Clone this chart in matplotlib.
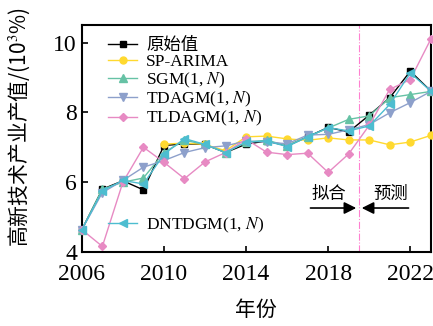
import numpy as np
import matplotlib
matplotlib.use("Agg")
import matplotlib.pyplot as plt

plt.rcParams['font.family'] = ['Liberation Serif', 'Noto Sans CJK SC', 'DejaVu Sans']
plt.rcParams['mathtext.fontset'] = 'stix'

years = np.arange(2006, 2024)
original = [4.64, 5.80, 6.04, 5.78, 7.05, 7.10, 7.08, 6.85, 7.09, 7.18, 7.04, 7.30, 7.57, 7.44, 7.92, 8.42, 9.18, 8.61]
sp_arima_years = np.arange(2010, 2024)
sp_arima = [7.09, 7.12, 7.08, 6.90, 7.30, 7.32, 7.24, 7.20, 7.27, 7.21, 7.21, 7.07, 7.15, 7.34]
sgm = [4.64, 5.80, 6.00, 6.12, 6.85, 7.20, 7.08, 6.85, 7.15, 7.20, 7.05, 7.30, 7.55, 7.80, 7.90, 8.42, 8.51, 8.60]
tdagm = [4.64, 5.70, 6.05, 6.43, 6.62, 6.85, 6.99, 7.04, 7.18, 7.15, 7.10, 7.35, 7.37, 7.50, 7.65, 7.99, 8.28, 8.60]
tldagm = [4.64, 4.16, 6.00, 7.00, 6.57, 6.10, 6.58, 6.85, 7.23, 6.86, 6.79, 6.83, 6.28, 6.81, 7.63, 8.66, 8.94, 10.10]
dntdgm = [4.64, 5.75, 6.05, 5.95, 6.80, 7.25, 7.08, 6.85, 7.15, 7.18, 7.02, 7.30, 7.56, 7.47, 7.61, 8.23, 9.13, 8.61]

split_year = 2019.5
x_ticks = [2006, 2010, 2014, 2018, 2022]
y_ticks = [4, 6, 8, 10]

fig = plt.figure(figsize=(4.33, 3.26), dpi=100)
ax = fig.add_axes([0.189, 0.227, 0.806, 0.696])

styles = [
    ('原始值', years, original, '#000000', 's', 4.5),
    ('SP-ARIMA', sp_arima_years, sp_arima, '#ffd92f', 'o', 5),
    ('SGM(1, $N$)', years, sgm, '#66c2a5', '^', 5.5),
    ('TDAGM(1, $N$)', years, tdagm, '#8da0cb', 'v', 5.5),
    ('TLDAGM(1, $N$)', years, tldagm, '#e78ac3', 'D', 4.5),
    ('DNTDGM(1, $N$)', years, dntdgm, '#4dbdd0', '<', 5.5),
]

handles = []
for label, xs, ys, color, marker, ms in styles:
    h, = ax.plot(xs, ys, color=color, marker=marker, markersize=ms, lw=1.0,
                 label=label, clip_on=False, zorder=3)
    handles.append(h)

ax.axvline(split_year, color='#ff80d0', lw=0.8, ls='-.', zorder=1)

ax.set_xlim(2006, 2023)
ax.set_ylim(4, 10.5)
ax.set_xticks(x_ticks)
ax.set_yticks(y_ticks)
ax.tick_params(direction='in', length=4, width=1.2, labelsize=17, top=False, right=False)
ax.tick_params(axis='x', pad=9)
for s in ax.spines.values():
    s.set_linewidth(1.5)

ax.set_xlabel('年份', family=['Noto Sans CJK SC'], fontsize=15, labelpad=10)
ax.set_ylabel('高新技术产业产值/(10$^3$%)', family=['Noto Sans CJK SC', 'DejaVu Sans'],
              fontsize=15)
ax.yaxis.set_label_coords(-0.142, 0.55)

leg1 = ax.legend(handles=handles[:5], loc='upper left', bbox_to_anchor=(0.045, 0.99),
                 frameon=False, fontsize=12.5, labelspacing=0.01, handlelength=1.7,
                 handletextpad=0.5, borderpad=0.1)
ax.add_artist(leg1)
ax.legend(handles=handles[5:], loc='upper left', bbox_to_anchor=(0.045, 0.205),
          frameon=False, fontsize=12.5, handlelength=1.7, handletextpad=0.5, borderpad=0.1)

# fitting / forecasting markers around the split line
arrow_y = 5.26
ax.annotate('', xy=(split_year, arrow_y), xytext=(2017.0, arrow_y),
            arrowprops=dict(arrowstyle='-|>', color='black', lw=1.2, mutation_scale=18))
ax.annotate('', xy=(split_year, arrow_y), xytext=(2022.05, arrow_y),
            arrowprops=dict(arrowstyle='-|>', color='black', lw=1.2, mutation_scale=18))
ax.text(2018.05, 5.66, '拟合', family=['Noto Sans CJK SC'], fontsize=12.5, ha='center', va='center')
ax.text(2021.05, 5.66, '预测', family=['Noto Sans CJK SC'], fontsize=12.5, ha='center', va='center')

fig.savefig('out.png', dpi=100)
